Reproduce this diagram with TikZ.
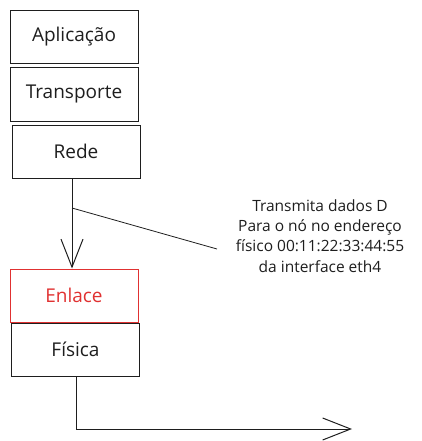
\documentclass[tikz,border=0pt]{standalone}
\usepackage{fontspec}
\setmainfont{Open Sans}
\usetikzlibrary{arrows.meta}
\definecolor{inkblack}{HTML}{1E1E1E}
\definecolor{inkred}{HTML}{E03131}
\tikzset{
  layer/.style={draw=inkblack, line width=1pt, minimum width=128pt, minimum height=53pt,
    inner sep=0pt, font=\fontsize{19}{22}\selectfont, text=inkblack},
  barb/.style={-{Straight Barb[length=28pt,width=22pt,line width=1pt]}, line width=1pt, draw=inkblack}
}

\begin{document}
\begin{tikzpicture}[x=1pt,y=-1pt]
                %fix the canvas to the reference size
                \useasboundingbox (0,0) rectangle (422,441);

                %the protocol stack, define nodes first
                \node[layer] (App) at (74,37) {Aplicação};
                \node[layer] (Trans) at (74,94.5) {Transporte};
                \node[layer] (Rede) at (76,151.5) {Rede};
                \node[layer, draw=inkred, text=inkred] (Enlace) at (74,295.5) {Enlace};
                \node[layer] (Fis) at (75.5,349.5) {Física};

                %arrow from network layer down to link layer
                \draw[barb] ([xshift=-4pt]Rede.south) -- ([xshift=-2pt]Enlace.north);

                %annotation attached to the arrow
                \coordinate (tap) at (72,208);
                \coordinate (tip) at (217,249);
                \node[font=\fontsize{15.5}{20.3}\selectfont, text=inkblack, align=center] (note) at (320,236)
                  {Transmita dados D\\Para o nó no endereço\\físico 00:11:22:33:44:55\\da interface eth4};
                \draw[inkblack, line width=0.8pt] (tap) -- (tip);

                %arrow leaving the physical layer
                \coordinate (corner) at (76,429);
                \coordinate (out) at (352,429);
                \draw[barb] ([xshift=0.5pt]Fis.south) -- (corner) -- (out);
\end{tikzpicture}
\end{document}
